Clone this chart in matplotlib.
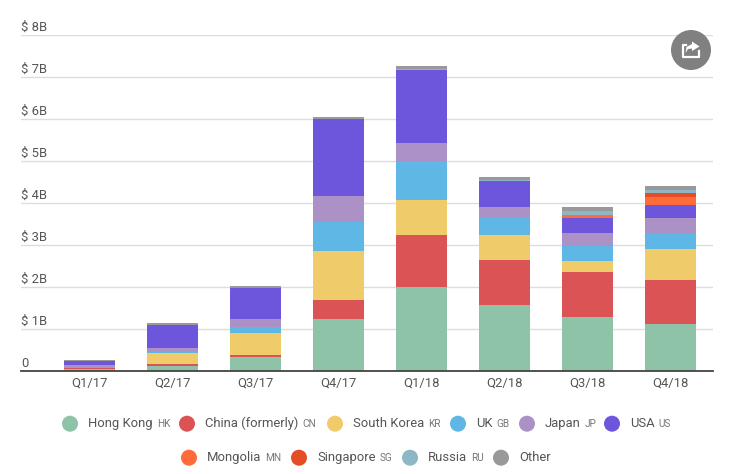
import matplotlib
matplotlib.use("Agg")
import matplotlib.pyplot as plt
from matplotlib.patches import Circle, Polygon
from matplotlib.lines import Line2D
import numpy as np

W, H = 739, 474
quarters = ["Q1/17", "Q2/17", "Q3/17", "Q4/17", "Q1/18", "Q2/18", "Q3/18", "Q4/18"]
hong_kong = [0.03, 0.10, 0.32, 1.22, 1.988, 1.556, 1.27, 1.10]
china = [0.03, 0.05, 0.05, 0.455, 1.238, 1.07, 1.07, 1.05]
south_korea = [0.0, 0.26, 0.52, 1.177, 0.834, 0.595, 0.26, 0.74]
uk = [0.0, 0.04, 0.135, 0.684, 0.928, 0.413, 0.365, 0.365]
japan = [0.07, 0.08, 0.20, 0.62, 0.429, 0.254, 0.30, 0.373]
usa = [0.10, 0.55, 0.74, 1.833, 1.738, 0.62, 0.357, 0.31]
mongolia = [0, 0, 0, 0, 0, 0, 0.07, 0.19]
singapore = [0, 0, 0, 0, 0, 0, 0, 0.095]
russia = [0, 0, 0, 0, 0.024, 0.02, 0.095, 0.07]
other = [0.016, 0.05, 0.05, 0.05, 0.071, 0.07, 0.095, 0.095]

names = ["Hong Kong", "China (formerly)", "South Korea", "UK", "Japan", "USA",
         "Mongolia", "Singapore", "Russia", "Other"]
codes = ["HK", "CN", "KR", "GB", "JP", "US", "MN", "SG", "RU", ""]
series = [hong_kong, china, south_korea, uk, japan, usa, mongolia, singapore, russia, other]
colors = ["#8EC3A7", "#DC5356", "#F0CB69", "#5FB7E5", "#AB91C5", "#6D55DC",
          "#FF6B39", "#E54D24", "#8DB7C4", "#999999"]
yticks = [0, 1, 2, 3, 4, 5, 6, 7, 8]
ylabels = ["0"] + [f"$ {v}B" for v in yticks[1:]]

plt.rcParams["font.family"] = ["Roboto", "DejaVu Sans"]
plt.rcParams["text.parse_math"] = False
fig = plt.figure(figsize=(W / 100, H / 100), dpi=100)
# plot area in pixels: x 21..713, y 34.5 (8B)..370.5 (0)
ax = fig.add_axes([21 / W, 1 - 370.5 / H, 692 / W, 336 / H])
ax.set_xlim(-0.8253, 7.5120)
ax.set_ylim(0, 8)
bottom = np.zeros(len(quarters))
for vals, c, n in zip(series, colors, names):
    ax.bar(range(len(quarters)), vals, 0.6145, bottom=bottom, color=c, label=n, zorder=3, linewidth=0)
    bottom += np.array(vals)

for s in ["top", "left", "right"]:
    ax.spines[s].set_visible(False)
ax.spines["bottom"].set_color("#444444")
ax.spines["bottom"].set_linewidth(1.3)
ax.spines["bottom"].set_zorder(5)
ax.set_yticks(yticks)
ax.set_yticklabels([])
ax.grid(axis="y", color="#DDDDDD", linewidth=1.0, zorder=0)
ax.tick_params(axis="y", length=0)
ax.tick_params(axis="x", length=0, pad=4.5, labelsize=9.4, labelcolor="#555555")
ax.set_xticks(range(len(quarters)))
ax.set_xticklabels(quarters)
trans = ax.get_yaxis_transform()
for v, lab in zip(yticks, ylabels):
    ax.text(0, v + 0.08, lab, transform=trans, ha="left", va="baseline", fontsize=9.4, color="#555555")

# overlay in pixel coordinates
ov = fig.add_axes([0, 0, 1, 1], facecolor="none")
ov.set_xlim(0, W)
ov.set_ylim(H, 0)
ov.axis("off")
ov.add_patch(Circle((691, 50), 20, color="#808080", lw=0, zorder=6))
ov.add_line(Line2D([686, 683, 683, 699, 699], [45, 45, 56.5, 56.5, 51], color="white", lw=1.6, zorder=7))
ov.add_patch(Polygon([(692, 41.5), (699.5, 46.5), (692, 51), (692, 48.5), (688, 49), (685.5, 53),
                      (686.5, 47), (692, 44)], color="white", lw=0, zorder=7))

# legend circle centre and text start, pixels, in series order
circle_x = [70, 187, 335, 458, 527, 612, 189, 299, 410, 501]
text_x = [88, 205, 353, 476, 545, 630, 207, 317, 428, 519]
fig.canvas.draw()
for i, (cx, tx) in enumerate(zip(circle_x, text_x)):
    y = 423.7 if i < 6 else 457.7
    ov.add_patch(Circle((cx, y), 8, color=colors[i], lw=0))
    t = ov.text(tx, y, names[i], ha="left", va="center", fontsize=9.4, color="#555555")
    if codes[i]:
        bb = t.get_window_extent(fig.canvas.get_renderer())
        ov.text(bb.x1 + 4, y + 0.5, codes[i], ha="left", va="center", fontsize=7.2, color="#777777")

fig.savefig("out.png", dpi=100)
